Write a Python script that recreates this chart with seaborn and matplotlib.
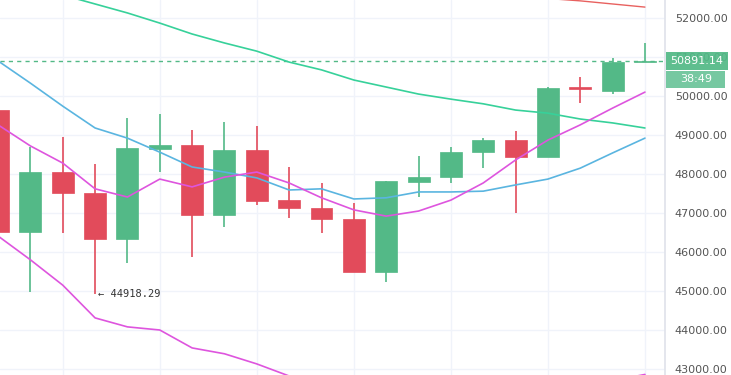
import numpy as np
import pandas as pd
import matplotlib
matplotlib.use('Agg')
import matplotlib.pyplot as plt
from matplotlib.patches import Rectangle
import seaborn as sns

# candle data
opens = [49640, 46510, 48050, 47510, 46330, 48640, 48740, 46950, 48610, 47330, 47130,
         46850, 45490, 47790, 47920, 48560, 48870, 48440, 50230, 50130, 50860]
closes = [46510, 48050, 47510, 46330, 48670, 48740, 46950, 48610, 47310, 47130, 46850,
          45490, 47820, 47920, 48560, 48870, 48440, 50200, 50180, 50870, 50891.14]
highs = [49700, 48690, 48950, 48260, 49440, 49540, 49130, 49330, 49230, 48180, 47770,
         47260, 47820, 48460, 48690, 48920, 49100, 50230, 50490, 50970, 51360]
lows = [46400, 44970, 46490, 44918.29, 45720, 48050, 45870, 46640, 47200, 46870, 46490,
        45490, 45230, 47410, 47770, 48150, 47000, 48440, 49820, 50050, 50860]

# indicator lines
ma_green = [53100, 52850, 52590, 52360, 52130, 51870, 51590, 51360, 51150, 50870, 50670,
            50410, 50230, 50050, 49920, 49800, 49640, 49560, 49410, 49310, 49180]
ma_red = [53300, 53250, 53200, 53150, 53100, 53050, 53000, 52950, 52900, 52850, 52800,
          52760, 52720, 52680, 52640, 52600, 52560, 52500, 52440, 52360, 52280]
ma_blue = [50900, 50330, 49740, 49180, 48920, 48560, 48180, 48050, 47900, 47590, 47620,
           47360, 47390, 47540, 47540, 47560, 47720, 47870, 48150, 48540, 48920]
bb_mid = [49260, 48720, 48280, 47620, 47410, 47870, 47670, 47920, 48050, 47770, 47390,
          47080, 46920, 47050, 47330, 47770, 48360, 48870, 49260, 49690, 50100]
bb_low = [46410, 45800, 45150, 44310, 44080, 44000, 43540, 43390, 43130, 42820, 42590,
          42330, 42210, 42210, 42260, 42330, 42400, 42480, 42580, 42700, 42860]

last_price = 50891.14
low_label = "44918.29"
countdown = "38:49"
y_ticks = [43000, 44000, 45000, 46000, 47000, 48000, 49000, 50000, 51000, 52000]

GREEN = '#53b987'
RED = '#e24b5b'

sns.set_theme(style="white")
plt.rcParams['font.family'] = ['DejaVu Sans']

W, H = 731, 375
fig = plt.figure(figsize=(W / 100, H / 100), dpi=100)
ax = fig.add_axes([0, 0, 665 / W, 1])

idx = np.arange(len(opens))
df = pd.DataFrame({'idx': idx, 'green': ma_green, 'red': ma_red, 'blue': ma_blue,
                   'mid': bb_mid, 'low': bb_low})

# grid
for t in y_ticks:
    ax.axhline(t, color='#f0f3fa', lw=1, zorder=0)
for i in range(2, len(opens), 3):
    ax.axvline(i, color='#f0f3fa', lw=1, zorder=0)

# candles
for i in idx:
    o, c, h, l = opens[i], closes[i], highs[i], lows[i]
    col = GREEN if c >= o else RED
    ax.vlines(i, l, h, color=col, lw=1.2, zorder=2)
    bottom = min(o, c)
    height = max(abs(c - o), 40)
    ax.bar(i, height, bottom=bottom, width=0.68, color=col, edgecolor=col, lw=0.5, zorder=3)

# lines
sns.lineplot(data=df, x='idx', y='green', color='#37d19a', lw=1.2, ax=ax, zorder=4)
sns.lineplot(data=df, x='idx', y='red', color='#e8615f', lw=1.0, ax=ax, zorder=4)
sns.lineplot(data=df, x='idx', y='blue', color='#5ab5e0', lw=1.2, ax=ax, zorder=4)
sns.lineplot(data=df, x='idx', y='mid', color='#de55de', lw=1.2, ax=ax, zorder=4)
sns.lineplot(data=df, x='idx', y='low', color='#de55de', lw=1.2, ax=ax, zorder=4)

# last price line
ax.axhline(last_price, color=GREEN, lw=1, ls=(0, (3, 3)), zorder=1)

# low annotation
ax.text(3.1, 44918.29, "\u2190 " + low_label, fontsize=7.5, family='DejaVu Sans Mono',
        color='#333333', va='center', ha='left', zorder=5)

ax.set_xlim(0.06, 20.62)
ax.set_ylim(42846, 52462)
ax.set_xlabel('')
ax.set_ylabel('')
ax.set_xticks([])
ax.yaxis.tick_right()
ax.set_yticks(y_ticks)
ax.set_yticklabels([f"{t:.2f}" for t in y_ticks])
ax.tick_params(axis='y', length=0, pad=7, labelsize=8, labelcolor='#555555')
for s in ['top', 'left', 'bottom']:
    ax.spines[s].set_visible(False)
ax.spines['right'].set_color('#e0e3eb')
if ax.get_legend():
    ax.get_legend().remove()

# price label boxes on the right axis (pixel layout from top-left)
fig.patches.append(Rectangle((666 / W, 1 - 70 / H), 62 / W, 18 / H, transform=fig.transFigure,
                             fc=GREEN, ec='none', alpha=0.93, zorder=6))
fig.patches.append(Rectangle((666 / W, 1 - 88 / H), 59 / W, 17 / H, transform=fig.transFigure,
                             fc='#6cc49a', ec='none', alpha=0.93, zorder=6))
fig.text(697 / W, 1 - 61.5 / H, f"{last_price:.2f}", fontsize=8, color='white',
         ha='center', va='center', zorder=7)
fig.text(696 / W, 1 - 79.5 / H, countdown, fontsize=8, color='white',
         ha='center', va='center', zorder=7)

fig.savefig('out.png', dpi=100)
